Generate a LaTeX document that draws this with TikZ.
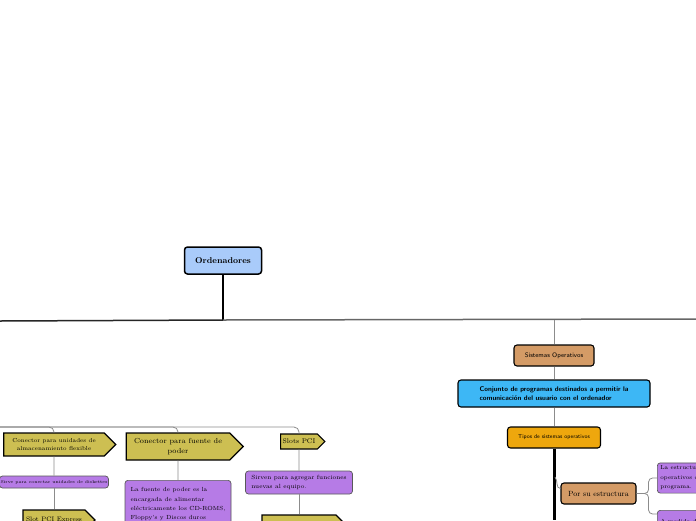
\documentclass[tikz,border=0pt]{standalone}
\usepackage{tikz}
\usetikzlibrary{shapes.symbols}
\definecolor{ordblue}{HTML}{A9CBFA}
\definecolor{ordtan}{HTML}{D49B66}
\definecolor{ordsky}{HTML}{3DB7F5}
\definecolor{ordorange}{HTML}{EEA70D}
\definecolor{ordyellow}{HTML}{CDBF52}
\definecolor{ordpurple}{HTML}{B67BE6}
\tikzset{
  bx/.style={rounded corners=3pt, draw=black, line width=1.1pt, align=center, inner sep=2pt},
  root/.style={bx, fill=ordblue, line width=1.5pt, font=\fontsize{8.5}{10}\selectfont\bfseries},
  tan/.style={bx, fill=ordtan},
  sky/.style={bx, fill=ordsky, align=left, font=\fontsize{6.8}{8.5}\selectfont\sffamily\bfseries},
  orng/.style={bx, fill=ordorange, font=\fontsize{5.6}{7}\selectfont\sffamily},
  sig/.style={signal, signal to=east, draw=black, line width=1.1pt, fill=ordyellow, align=center, inner sep=2pt},
  note/.style={rounded corners=3pt, draw=black!65, line width=0.7pt, fill=ordpurple, align=left, inner sep=3pt},
  lnk/.style={draw=black!45, line width=0.8pt},
  trunk/.style={draw=black, line width=1.5pt},
}
\begin{document}
\begin{tikzpicture}[x=1pt, y=-1pt]
    \fill[white] (0,0) rectangle (696,520);
    \useasboundingbox (0,0) rectangle (696,520);
    % root
    \node[root, minimum width=77pt, minimum height=27pt] (ord) at (223,260.5) {Ordenadores};
    \coordinate (j0) at (223,320);
    \coordinate (hl) at (0,321);
    \coordinate (hr) at (696,319);
    \coordinate (j1) at (554,320);
    \draw[trunk] (ord) -- (j0);
    \draw[trunk, draw=black!85] (j0) -- (hl);
    \draw[trunk, draw=black!60] (j0) -- (hr);
    % right branch
    \node[tan, minimum width=80pt, minimum height=21pt, font=\fontsize{6.5}{8}\selectfont\sffamily] (so) at (554,355.5) {Sistemas Operativos};
    \node[sky, minimum width=192pt, minimum height=27pt] (conj) at (554,393.5) {Conjunto de programas destinados a permitir la\\comunicaci\'on del usuario con el ordenador};
    \node[orng, minimum width=93pt, minimum height=21pt] (tipos) at (554,437.5) {Tipos de sistemas operativos};
    \coordinate (tb) at (554,520);
    \coordinate (ej) at (555,477);
    \node[tan, minimum width=75pt, minimum height=21pt, font=\fontsize{7.5}{9}\selectfont] (est) at (598.5,493.5) {Por su estructura};
    \node[note, minimum height=30pt, anchor=west, font=\fontsize{5.8}{9.5}\selectfont] (p1) at (657,478) {La estructura de los sistemas\\operativos depende del\\programa.};
    \node[note, minimum height=30pt, anchor=north west, font=\fontsize{5.8}{8}\selectfont] (p2) at (657,510) {A medida de la evoluci\'on\\se hizo una nueva};
    \foreach \a/\b in {j1/so, so/conj, conj/tipos} \draw[lnk] (\a) -- (\b);
    \draw[draw=black, line width=3pt] (tipos) -- (tb);
    \draw[lnk] (ej) to[out=-50, in=180] ([yshift=5pt]est.west);
    \draw[lnk, rounded corners=4pt] (est.east) -- ++(12,0) |- (p1.west);
    \draw[lnk, rounded corners=4pt] (est.east) -- ++(12,0) |- ([yshift=-4pt]p2.north west);
    % left branch
    \coordinate (lt) at (0,427);
    \node[sig, minimum width=112pt, minimum height=23pt, font=\fontsize{5.8}{7.5}\selectfont] (c1) at (54,444.5) {Conector para unidades de\\almacenamiento flexible};
    \node[note, minimum width=104pt, minimum height=12pt, inner sep=1pt, align=center, font=\fontsize{4.3}{6}\selectfont] (d1) at (54,482) {Sirve para conectar unidades de diskettes};
    \node[sig, minimum width=72pt, minimum height=20pt, font=\fontsize{6.5}{8}\selectfont] (s1) at (54,520) {Slot PCI Express};
    \node[sig, minimum width=117pt, minimum height=27pt, font=\fontsize{7.3}{10}\selectfont] (c2) at (178,446.5) {Conector para fuente de\\poder};
    \node[note, minimum width=106pt, minimum height=48pt, anchor=north, font=\fontsize{5.9}{9.3}\selectfont] (d2) at (178,480) {La fuente de poder es la\\encargada de alimentar\\el\'ectricamente los CD-ROMS,\\Floppy's y Discos duros};
    \node[sig, minimum width=44pt, minimum height=15pt, font=\fontsize{6.8}{8}\selectfont] (s3) at (299,441.5) {Slots PCI};
    \node[note, minimum width=107pt, minimum height=23pt, font=\fontsize{6}{8.5}\selectfont] (d3) at (299,482.5) {Sirven para agregar funciones\\nuevas al equipo.};
    \node[sig, minimum width=84pt, minimum height=20pt] (y3) at (299,525) {};
    \foreach \b in {c1, c2, s3} \draw[lnk, rounded corners=5pt] (lt) -| (\b.north);
    \foreach \a/\b in {c1/d1, d1/s1, c2/d2, s3/d3, d3/y3} \draw[lnk] (\a) -- (\b);
  \end{tikzpicture}
\end{document}
